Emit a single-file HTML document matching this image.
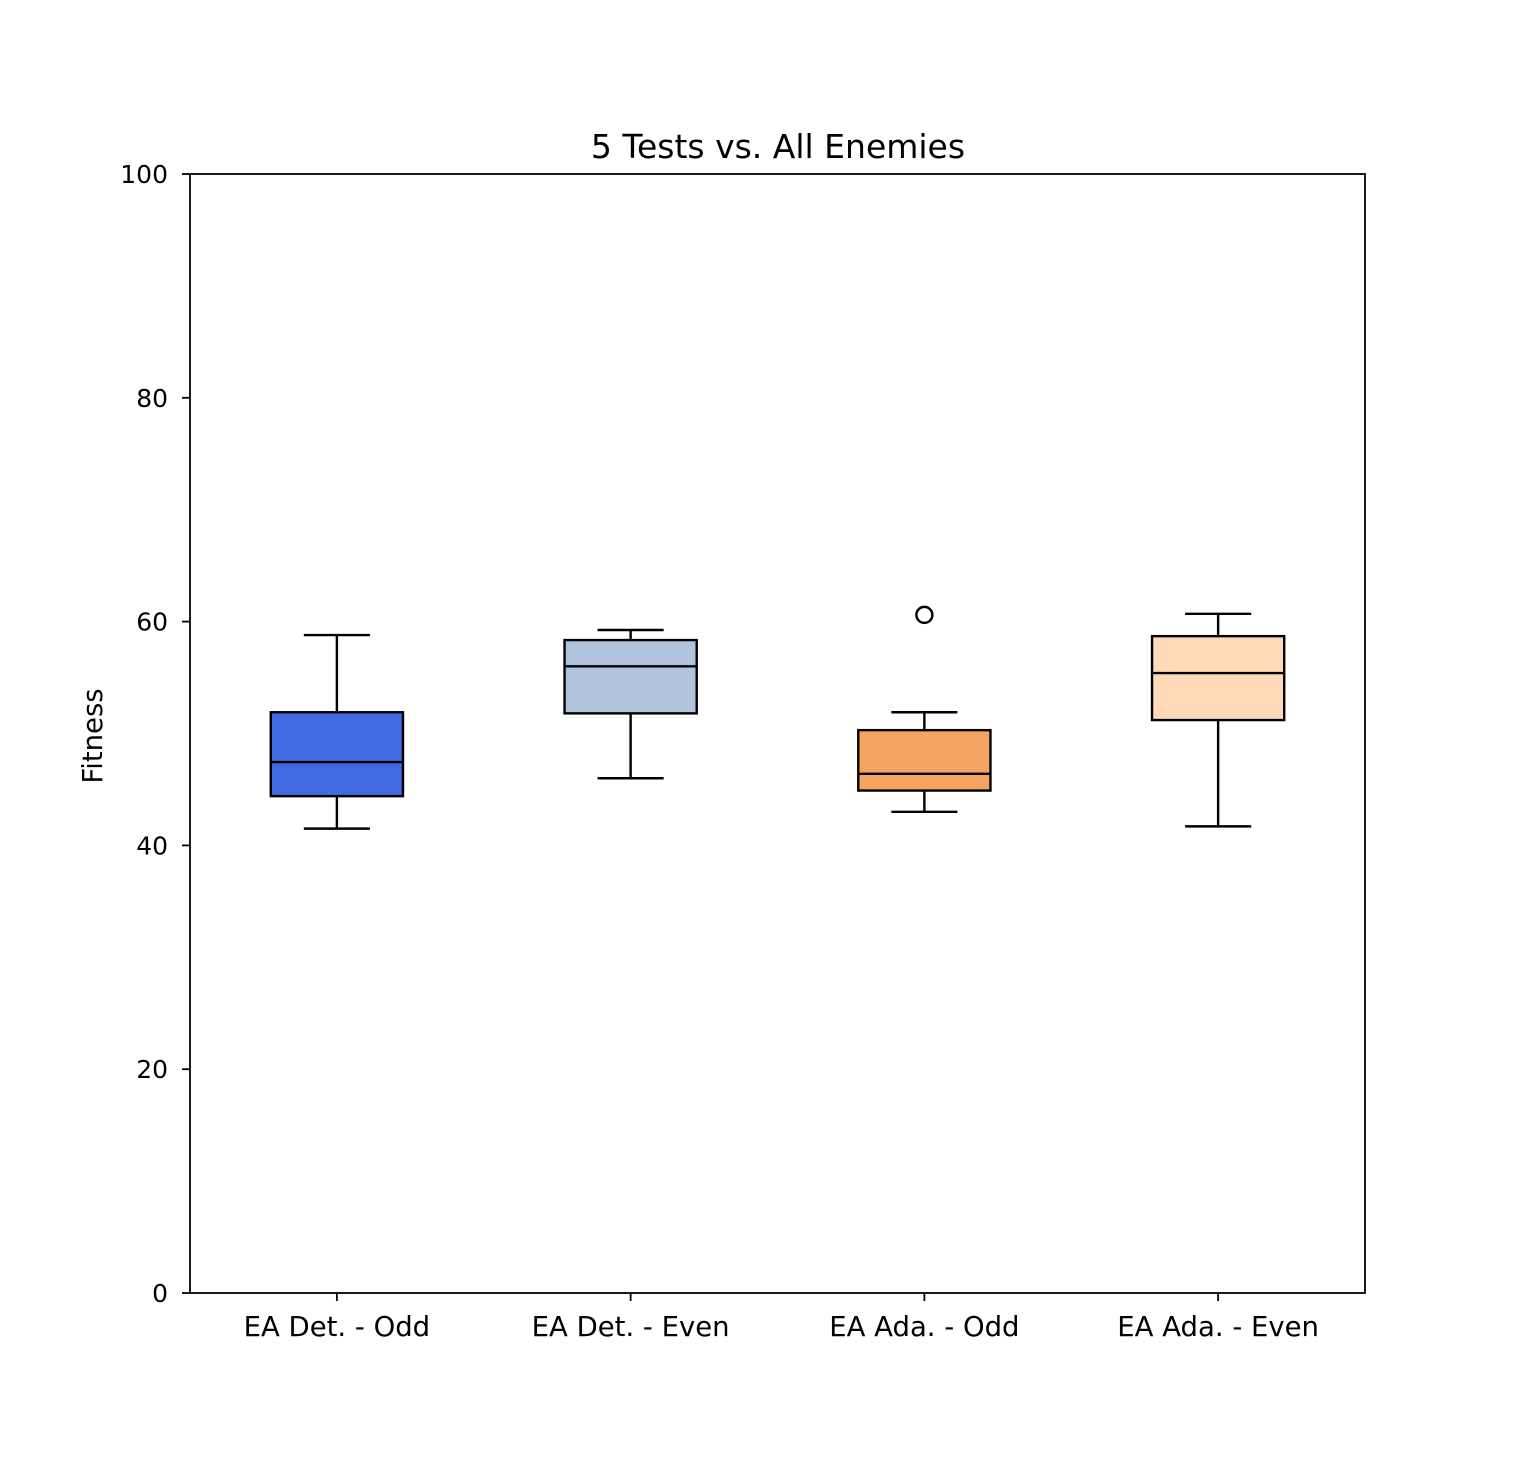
<!DOCTYPE html>
<html><head><meta charset="utf-8"><style>
body{margin:0;background:#fff;}
svg text{font-family:"DejaVu Sans","Liberation Sans",sans-serif;fill:#000;}
</style></head><body>
<svg id="chart" width="1518" height="1454" xmlns="http://www.w3.org/2000/svg">
<rect width="1518" height="1454" fill="#fff"/>
<text x="778" y="158" font-size="33" text-anchor="middle">5 Tests vs. All Enemies</text>
<text transform="translate(102,736) rotate(-90)" font-size="27.5" text-anchor="middle">Fitness</text>
<g id="plot"></g>
<rect x="190" y="174" width="1175" height="1119" fill="none" stroke="#000" stroke-width="1.8"/>
</svg>
<script>
const categories=["EA Det. - Odd","EA Det. - Even","EA Ada. - Odd","EA Ada. - Even"];
const whiskerLow=[41.5,46.0,43.0,41.7];
const q1=[44.4,51.8,44.9,51.2];
const medians=[47.45,56.0,46.4,55.4];
const q3=[51.9,58.35,50.3,58.7];
const whiskerHigh=[58.8,59.25,51.9,60.7];
const outliers=[[],[],[60.6],[]];
const colors=["#4169e1","#b0c4de","#f4a460","#ffdab9"];
const yTicks=[0,20,40,60,80,100];
const L=190,R=1365,T=174,B=1293;
const y=v=>B-(v-0)/(100-0)*(B-T);
const x=i=>L+(i+1-0.5)/4*(R-L);
const unit=(R-L)/4;
const g=document.getElementById('plot');
const NS="http://www.w3.org/2000/svg";
function mk(tag,attrs,parent){const e=document.createElementNS(NS,tag);for(const k in attrs)e.setAttribute(k,attrs[k]);(parent||g).appendChild(e);return e;}
yTicks.forEach(t=>{
  const l=mk('line',{x1:L-8,x2:L,y1:y(t),y2:y(t),stroke:'#000','stroke-width':1.8});
  
  
  const tx=mk('text',{x:L-22,y:y(t)+9,'font-size':25,'text-anchor':'end'});
  tx.textContent=t;
  
  
});
categories.forEach((c,i)=>{
  const cx=x(i),bw=unit*0.45,cw=unit*0.225;
  const grp=mk('g',{});
  
  
  mk('line',{x1:cx,x2:cx,y1:y(q3[i]),y2:y(whiskerHigh[i]),stroke:'#000','stroke-width':2.4},grp);
  mk('line',{x1:cx,x2:cx,y1:y(q1[i]),y2:y(whiskerLow[i]),stroke:'#000','stroke-width':2.4},grp);
  mk('line',{x1:cx-cw/2,x2:cx+cw/2,y1:y(whiskerHigh[i]),y2:y(whiskerHigh[i]),stroke:'#000','stroke-width':2.4},grp);
  mk('line',{x1:cx-cw/2,x2:cx+cw/2,y1:y(whiskerLow[i]),y2:y(whiskerLow[i]),stroke:'#000','stroke-width':2.4},grp);
  mk('rect',{x:cx-bw/2,y:y(q3[i]),width:bw,height:y(q1[i])-y(q3[i]),fill:colors[i],stroke:'#000','stroke-width':2.4},grp);
  mk('line',{x1:cx-bw/2,x2:cx+bw/2,y1:y(medians[i]),y2:y(medians[i]),stroke:'#000','stroke-width':2.4},grp);
  outliers[i].forEach(o=>{
    const ci=mk('circle',{cx:cx,cy:y(o),r:8,fill:'none',stroke:'#000','stroke-width':2.4},grp);
    
    
  });
  const tk=mk('line',{x1:cx,x2:cx,y1:B,y2:B+8,stroke:'#000','stroke-width':1.8});
  
  
  const tx=mk('text',{x:cx,y:B+43,'font-size':27.5,'text-anchor':'middle'});
  tx.textContent=c;
  
  
});
</script>
</body></html>
